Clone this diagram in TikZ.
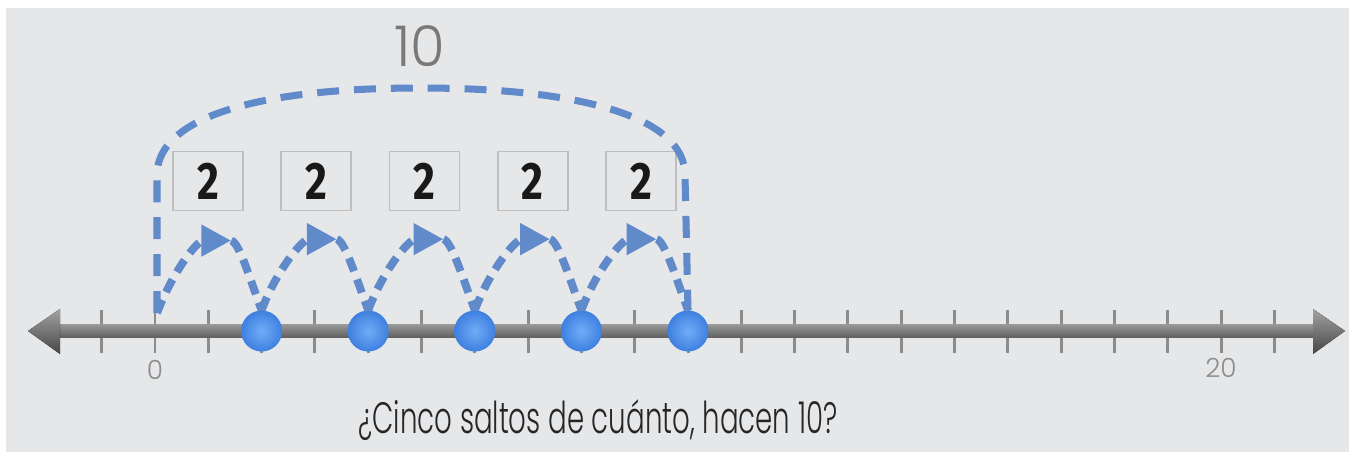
\documentclass[tikz,border=0pt]{standalone}
\usepackage{fontspec}
\setmainfont{Poppins Light}
\newfontfamily\narrowfont{Poppins Light}[FakeStretch=0.63]
\newfontfamily\numfont{Fira Sans}[FakeStretch=0.8]
\usetikzlibrary{%
  arrows.meta,%
  positioning,%
  calc%
}
\definecolor{bggray}{RGB}{230,231,233}
\definecolor{jumpblue}{RGB}{96,138,202}
\definecolor{dotblue}{RGB}{62,128,224}
\definecolor{dotlight}{RGB}{112,172,246}
\definecolor{tickgray}{RGB}{140,140,140}
\definecolor{boxgray}{RGB}{190,190,190}
\definecolor{shafttop}{RGB}{152,152,152}
\definecolor{shaftbot}{RGB}{96,96,96}
\definecolor{headtop}{RGB}{162,162,162}
\definecolor{headbot}{RGB}{70,70,70}
\tikzset{
  jump/.style={draw=jumpblue, line width=4.5pt, dash pattern=on 8pt off 5pt},
  jumptip/.style={jump, -{Triangle[length=0.6cm,width=0.6cm]}},
  total/.style={draw=jumpblue, line width=4pt, dash pattern=on 12.5pt off 8.5pt},
  dot/.style={circle, minimum size=0.82cm, inner sep=0pt,
    inner color=dotlight, outer color=dotblue},
  numbox/.style={draw=boxgray, line width=1.1pt, minimum width=1.4cm,
    minimum height=1.18cm, inner sep=0pt, text=black!90,
    font=\numfont\bfseries\fontsize{30}{30}\selectfont},
  ticklab/.style={text=tickgray, font=\fontsize{15}{17}\selectfont}
}
\begin{document}
\begin{tikzpicture}[x=0.02cm, y=0.02cm]
\useasboundingbox (0,0) rectangle (1349,-452);
\fill[white] (0,0) rectangle (1349,-452);
\fill[bggray] (6,-8) rectangle (1349,-452);

\foreach \k in {-1,...,21} {
  \draw[tickgray, line width=1.7pt] (155+53.3*\k,-310) -- (155+53.3*\k,-353);
}
\fill[top color=shafttop, bottom color=shaftbot] (60,-324.5) rectangle (1313,-337.5);
\fill[top color=headtop, bottom color=headbot] (28,-331) -- (60,-309) -- (60,-354) -- cycle;
\fill[top color=headtop, bottom color=headbot] (1345,-331) -- (1313,-309) -- (1313,-354) -- cycle;

\node[ticklab] (t0) at (155,-370) {0};
\node[ticklab] (t20) at (1221,-368) {20};

\foreach \i in {1,...,5} {
  \node[dot] (pt\i) at (155+106.6*\i,-331) {};
  \node[numbox] (b\i) at (208+108.25*\i-108.25,-181) {2};
}
\coordinate (z) at (157,-313);

\foreach \a/\b [count=\i] in {z/pt1, pt1.north/pt2, pt2.north/pt3, pt3.north/pt4, pt4.north/pt5} {
  \coordinate (top\i) at ($(\a)!0.5!(\b.north)+(22,71)$);
  \draw[jumptip] (\a) .. controls +(16,42) and +(-34,0) .. (top\i);
  \draw[jump] (top\i) .. controls +(8,-2) and +(-12,32) .. (\b.north);
}

\draw[total] (z) -- (157,-175) .. controls (157,-120) and (250,-88) .. (420,-88)
  .. controls (590,-88) and (685,-120) .. (685,-175) -- (pt5.north);

\node[text=gray!95!black, font=\fontsize{32}{32}\selectfont] (ten) at (420,-46) {10};
\node[text=black!85, font=\narrowfont\fontsize{25}{27}\selectfont] (q) at (598,-420)
  {¿Cinco saltos de cuánto, hacen 10?};
\end{tikzpicture}
\end{document}
